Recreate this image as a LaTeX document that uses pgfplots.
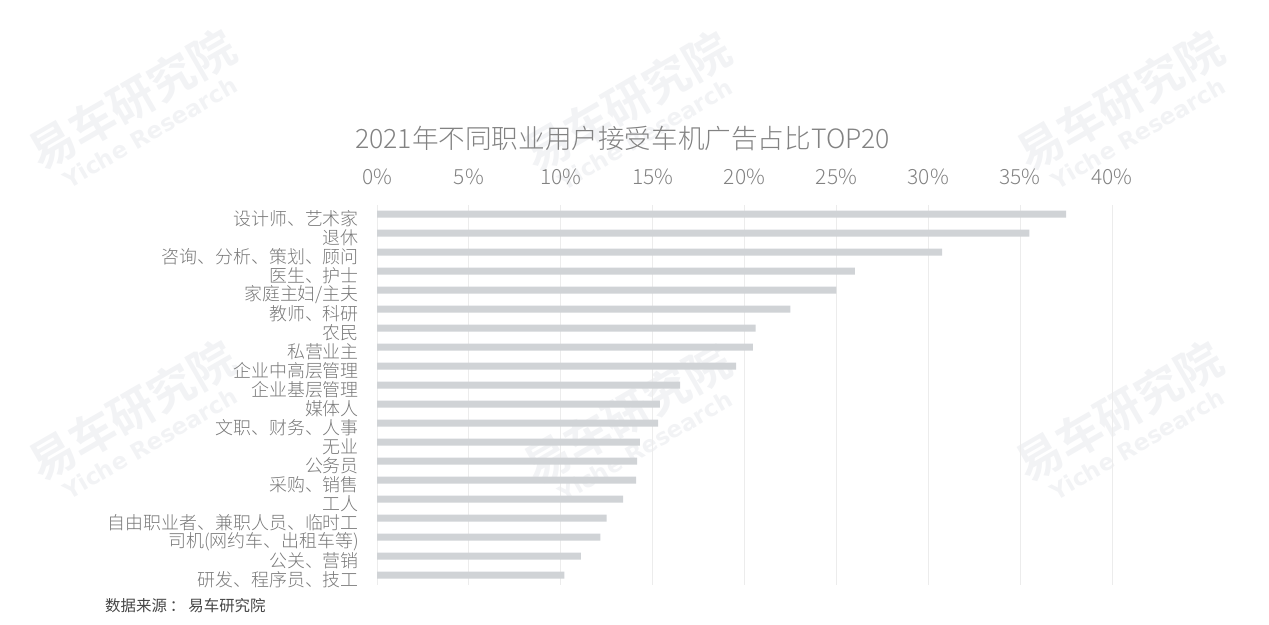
\documentclass[border=0pt]{standalone}
\usepackage{fontspec}
\setmainfont{Noto Sans CJK SC}[UprightFont=* Light, BoldFont=* Bold]
\newfontfamily\regfont{Noto Sans CJK SC}
\newfontfamily\wmlatin{DejaVu Sans}
\usepackage{pgfplots}
\pgfplotsset{compat=1.18}
\definecolor{barcol}{RGB}{208,211,214}
\definecolor{gridcol}{RGB}{236,236,236}
\definecolor{txtcol}{RGB}{130,130,130}
\definecolor{labcol}{RGB}{120,120,120}
\definecolor{srccol}{RGB}{70,70,70}
\definecolor{wmcol}{RGB}{242,243,245}
\begin{document}
\begin{tikzpicture}[x=1bp,y=1bp]
\path[use as bounding box] (0,0) rectangle (1269,-625);
\foreach \cx/\cy in {141/116, 636/118, 1129/117, 141/427, 636/430, 1128/428} {
  \node[rotate=30, text=wmcol, font=\fontsize{46}{46}\selectfont\bfseries] at (\cx-9, -\cy+16.5) {易车研究院};
  \node[rotate=30, text=wmcol, font=\wmlatin\fontsize{23}{23}\selectfont\bfseries] at (\cx+9, -\cy-16.5) {Yiche Research};
}
\begin{axis}[
  at={(377bp,-204.5bp)}, anchor=north west,
  scale only axis, width=735bp, height=380bp,
  xmin=0, xmax=40, ymin=-0.5, ymax=19.5,
  axis line style={draw=none},
  major tick length=0pt,
  xtick={0,5,...,40},
  xticklabels={0\%,5\%,10\%,15\%,20\%,25\%,30\%,35\%,40\%},
  xticklabel pos=upper,
  xmajorgrids,
  grid style={gridcol, line width=0.8bp},
  ytick={0,...,19},
  yticklabels={研发、程序员、技工, 公关、营销, 司机(网约车、出租车等), 自由职业者、兼职人员、临时工, 工人, 采购、销售, 公务员, 无业, 文职、财务、人事, 媒体人, 企业基层管理, 企业中高层管理, 私营业主, 农民, 教师、科研, 家庭主妇/主夫, 医生、护士, 咨询、分析、策划、顾问, 退休, 设计师、艺术家},
  xticklabel style={font=\fontsize{21}{21}\selectfont, text=txtcol, anchor=center, yshift=27.5bp},
  yticklabel style={font=\fontsize{18}{18}\selectfont, text=labcol, anchor=east, inner sep=0pt, xshift=-18bp, yshift=-5bp},
  clip=false,
]
\addplot[xbar, bar width=7bp, fill=barcol, draw=none] coordinates {
(37.5,19) (35.5,18) (30.75,17) (26.0,16) (25.0,15) (22.5,14) (20.6,13) (20.45,12) (19.55,11) (16.5,10)
(15.4,9) (15.3,8) (14.3,7) (14.15,6) (14.1,5) (13.4,4) (12.5,3) (12.15,2) (11.1,1) (10.2,0)
};
\end{axis}
\node[anchor=west, text=txtcol, font=\fontsize{26.7}{26.7}\selectfont, inner sep=0pt] at (355,-138) {2021年不同职业用户接受车机广告占比TOP20};
\node[anchor=west, text=srccol, font=\regfont\fontsize{15.5}{15.5}\selectfont, inner sep=0pt] at (105,-606) {数据来源\hspace{3bp}：\hspace{3bp}易车研究院};
\end{tikzpicture}
\end{document}
